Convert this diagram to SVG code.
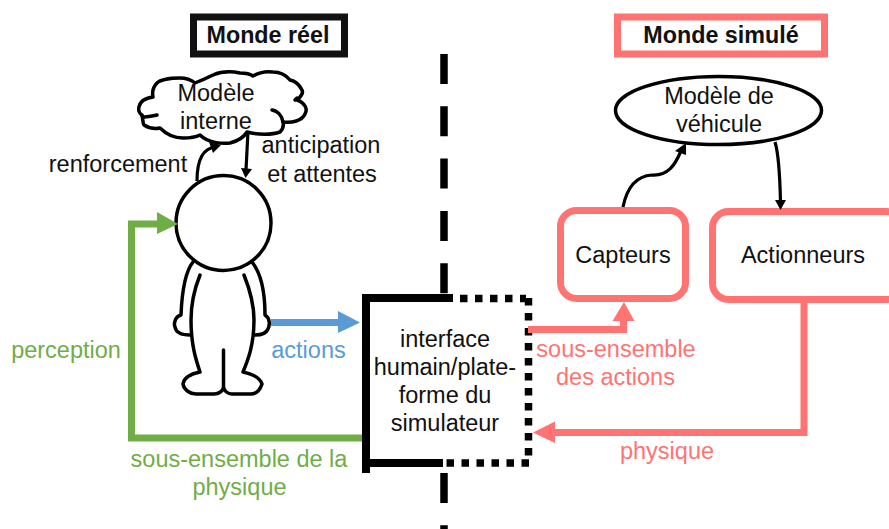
<svg xmlns="http://www.w3.org/2000/svg" width="889" height="529" viewBox="0 0 889 529">
<style>
text{font-family:"Liberation Sans",Arial,sans-serif;font-size:23.500px;text-anchor:middle;fill:#111}
.b{font-weight:bold;font-size:23.300px}
.g{fill:#70ad47}.bl{fill:#5b9bd5}.r{fill:#ff7373}
.body{fill:none;stroke:#000;stroke-width:3.500;stroke-linejoin:round;stroke-linecap:round}
.rb{fill:#fff;stroke:#ff7373;stroke-width:7}
.dot{fill:none;stroke:#000;stroke-width:7.500;stroke-dasharray:7.500 7.500}
.link{fill:none;stroke:#000;stroke-width:3.200}
</style>
<rect width="889" height="529" fill="#fff"/>
<g id="divider"><path d="M444 54V295M444 473V529" fill="none" stroke="#000" stroke-width="7.500" stroke-dasharray="30 22.300"/></g>
<g id="monde-reel"><rect x="193.500" y="17" width="151" height="37" fill="#fff" stroke="#111" stroke-width="7"/><text class="b" x="268" y="43">Monde réel</text></g>
<g id="monde-simule"><rect x="617.500" y="17" width="207" height="37" fill="#fff" stroke="#ff7373" stroke-width="7"/><text class="b" x="721" y="43">Monde simulé</text></g>
<g id="modele-interne">
<path class="body" d="M157 115C146 117 141 118 142 115C143 120 143 124 144 125C150 129 155 129 160 128C166 134 175 138 183 138C190 138 196 137 200 135C208 143 222 144 230 143C238 141 244 137 247 132C258 135 272 135 280 132C283 129 284 126 283 122C292 123 302 121 305 114C308 109 305 103 297 100C302 96 303 92 302 90C299 84 295 81 290 80C285 74 280 72 273 72C266 71 258 73 253 76C249 73 244 73 240 73C230 71 220 72 213 75C207 78 200 81 195 83C190 79 185 78 180 78C170 78 160 80 157 83C153 87 152 92 153 97C146 98 140 101 139 107C138 111 140 114 142 115"/>
<path class="body" d="M272 110C278 111 282 116 283 122M295 100L297 98"/>
<text x="216" y="100.500">Modèle</text><text x="216" y="129">interne</text>
</g>
<g id="personnage">
<circle cx="223.500" cy="223" r="47.500" fill="#fff" stroke="#000" stroke-width="3.500"/>
<path class="body" d="M193 262C185 272 182 290 181 315C174 317 174 325 175 327C176 333 182 335 190 335M252 262C260 272 265 290 265 315C270 318 270 325 268 329C266 334 260 335 255 335M200 275C194 290 191 305 191 320C191 345 196 360 200 372C190 374 184 378 183 384C184 390 190 394 196 394H214C219 394 223 391 223.500 387V350M244 275C250 290 254 305 254 320C254 345 248 360 243 372C253 374 260 378 262 384C260 390 256 394 251 394H232C228 394 224 391 223.500 387"/>
</g>
<g id="interface">
<path d="M366 298H453M366 294V473M366 463H443" fill="none" stroke="#000" stroke-width="8"/>
<path class="dot" d="M460 298.500H526"/>
<path class="dot" d="M528.500 298V456"/>
<path class="dot" d="M446.500 463H530"/>
<text x="445" y="347">interface</text><text x="445" y="375">humain/plate-</text><text x="445" y="403">forme du</text><text x="445" y="431">simulateur</text>
</g>
<g id="capteurs"><rect x="560.500" y="210.500" width="125" height="88" rx="16" class="rb"/><text x="623" y="262.500">Capteurs</text></g>
<g id="actionneurs"><rect x="712.500" y="211.500" width="190" height="88" rx="16" class="rb"/><text x="803" y="263">Actionneurs</text></g>
<g id="modele-vehicule"><ellipse cx="718.500" cy="110.500" rx="103" ry="34" fill="#fff" stroke="#000" stroke-width="3.500"/><text x="719" y="104">Modèle de</text><text x="719" y="132">véhicule</text></g>
<g id="connecteurs">
<path d="M362 438H131.500V224H160" fill="none" stroke="#70ad47" stroke-width="7"/><path d="M157 212L178 224L157 234Z" fill="#70ad47"/>
<path d="M271 322.500H340" fill="none" stroke="#5b9bd5" stroke-width="7"/><path d="M338 311L360 322.500L338 333Z" fill="#5b9bd5"/>
<path d="M528 329.500H623.500V318" fill="none" stroke="#ff7373" stroke-width="7"/><path d="M612.500 321L624 302L634.500 321Z" fill="#ff7373"/>
<path d="M804 302V432.500H553" fill="none" stroke="#ff7373" stroke-width="7"/><path d="M555 421.500L533 432.500L555 443Z" fill="#ff7373"/>
<path class="link" d="M197 181C197 163 201 148 216 147" stroke-width="3.500"/><path d="M209 142L221 145L213 153Z" fill="#000"/>
<path class="link" d="M248 131L246 170"/><path d="M241 168L252 169L245.500 178Z" fill="#000"/>
<path class="link" d="M623 207C627 187 637 176 652 175C668 176 675 165 681 151"/><path d="M675 151L686 143L686 155Z" fill="#000"/>
<path class="link" d="M775 142C779 155 780 180 780.500 202"/><path d="M775 200L786 200L780.500 210Z" fill="#000"/>
</g>
<g id="labels">
<text x="118" y="171.500">renforcement</text>
<text x="321" y="153">anticipation</text><text x="322" y="181.500">et attentes</text>
<text class="g" x="66" y="358">perception</text>
<text class="bl" x="308.500" y="358">actions</text>
<text class="g" x="239" y="467">sous-ensemble de la</text><text class="g" x="239.500" y="495">physique</text>
<text class="r" x="616" y="357">sous-ensemble</text><text class="r" x="615.500" y="385">des actions</text>
<text class="r" x="667" y="458.500">physique</text>
</g>
</svg>
